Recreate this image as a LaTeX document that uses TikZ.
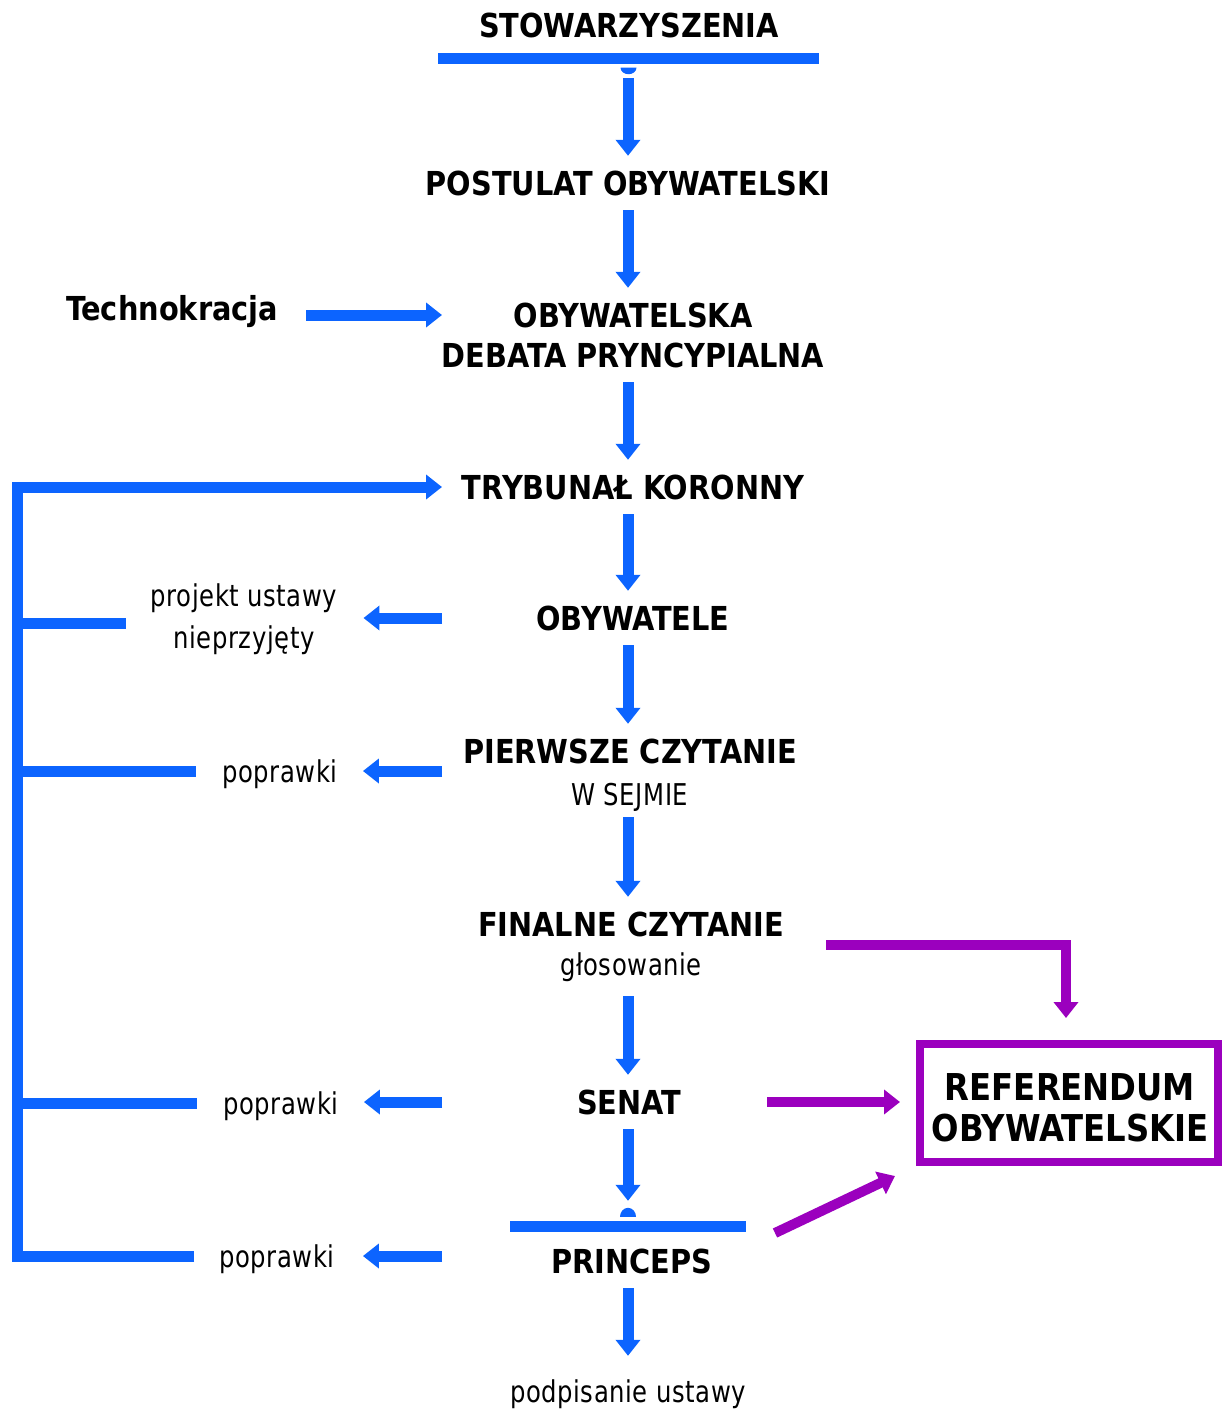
\documentclass[tikz,border=0pt]{standalone}
\usepackage{fontspec}
\usetikzlibrary{arrows.meta}
\newfontfamily\bfcfam[FakeStretch=0.97]{DejaVu Sans Condensed}
\newfontfamily\rgcfam[FakeStretch=0.9,LetterSpace=2]{DejaVu Sans Condensed}
\newcommand\myBF{\bfcfam\bfseries\fontsize{33}{38}\selectfont}
\newcommand\myBIG{\bfcfam\bfseries\fontsize{37}{42}\selectfont}
\newcommand\myRG{\rgcfam\fontsize{30}{34}\selectfont}
\definecolor{cblue}{RGB}{12,100,255}
\definecolor{cpurp}{RGB}{155,0,190}
\tikzset{
  bt/.style={font=\myBF, text height=24pt, text depth=0pt, inner xsep=0pt, inner ysep=15pt},
  bigt/.style={font=\myBIG, text height=28pt, text depth=0pt, inner sep=0pt},
  rt/.style={font=\myRG, text height=22pt, text depth=0pt, inner sep=0pt},
  arr/.style={draw=cblue, line width=11pt, -{Triangle[length=16pt,width=24pt]}},
  parr/.style={draw=cpurp, line width=10pt, -{Triangle[length=16pt,width=24pt]}},
  bline/.style={draw=cblue, line width=11pt},
  barbox/.style={fill=cblue, minimum height=11pt, inner sep=0pt},
}
\begin{document}
\begin{tikzpicture}[x=1pt,y=-1pt]
\useasboundingbox (0,0) rectangle (1223,1409);
\coordinate (colL) at (442,0);
\coordinate (spine) at (17,0);
% main column
\node[bt] (stow) at (629,25) {STOWARZYSZENIA};
\node[barbox, minimum width=381pt] (bar1) at (628.5,58.5) {};
\node[bt] (post) at (628,183) {POSTULAT OBYWATELSKI};
\node[bt] (obyw1) at (633,315) {OBYWATELSKA};
\node[bt] (debata) at (633,355) {DEBATA PRYNCYPIALNA};
\node[bt] (tech) at (172,308) {Technokracja};
\node[bt] (tryb) at (633,487) {TRYBUNAŁ KORONNY};
\node[bt] (obyw) at (633,618) {OBYWATELE};
\node[bt] (pierw) at (630,751) {PIERWSZE CZYTANIE};
\node[rt] (wsejm) at (630,794) {W SEJMIE};
\node[bt] (final) at (631,924) {FINALNE CZYTANIE};
\node[rt] (glos) at (631,964) {głosowanie};
\node[bt] (senat) at (629,1102) {SENAT};
\node[barbox, minimum width=236pt] (bar2) at (628,1226.5) {};
\node[bt] (princ) at (632,1261) {PRINCEPS};
\node[rt] (podp) at (628,1391) {podpisanie ustawy};
% left labels
\node[rt] (proj1) at (244,595) {projekt ustawy};
\node[rt] (proj2) at (244,637) {nieprzyjęty};
\node[rt] (popr1) at (280,771) {poprawki};
\node[rt] (popr2) at (281,1103) {poprawki};
\node[rt] (popr3) at (277,1256) {poprawki};
% referendum box
\node[draw=cpurp, line width=8pt, minimum width=298pt, minimum height=118pt, inner sep=0pt] (ref) at (1069,1103) {};
\node[bigt] (ref1) at (1070,1086) {REFERENDUM};
\node[bigt] (ref2) at (1070,1127) {OBYWATELSKIE};
% domes
\fill[cblue] ([xshift=8pt,yshift=-3.5pt]bar1.south) arc[start angle=0,end angle=180,x radius=8,y radius=6.5] -- cycle;
\fill[cblue] ([xshift=8pt,yshift=4pt]bar2.north) arc[start angle=0,end angle=-180,x radius=8,y radius=9] -- cycle;
% vertical arrows
\draw[arr, shorten <=14pt] (bar1.south -| post) -- (post.north);
\draw[arr] (post.south) -- (post.south |- obyw1.north);
\draw[arr] (debata.south -| post) -- (post |- tryb.north);
\draw[arr] (tryb.south -| post) -- (post |- obyw.north);
\draw[arr] (obyw.south -| post) -- (post |- pierw.north);
\draw[arr, shorten <=12pt] (wsejm.south -| post) -- (post |- final.north);
\draw[arr, shorten <=21pt] (glos.south -| post) -- (post |- senat.north);
\draw[arr, shorten >=20pt] (senat.south -| post) -- (post |- bar2.north);
\draw[arr, shorten >=24pt] (princ.south -| post) -- (post |- podp.north);
% technokracja
\draw[arr, shorten <=28pt] (tech.east |- obyw1) -- (colL |- obyw1);
% left arrows
\draw[arr, shorten >=26pt] (colL |- obyw) -- (proj1.east |- obyw);
\draw[arr, shorten >=25pt] (colL |- popr1) -- (popr1.east);
\draw[arr, shorten >=25pt] (colL |- senat) -- (popr2.east |- senat);
\draw[arr, shorten >=28pt] (colL |- popr3) -- (popr3.east);
% feedback spine
\draw[arr, line join=miter] ([xshift=-25pt]popr3.west) -| (spine |- tryb) -- (colL |- tryb);
\draw[bline] (spine |- obyw) ++(0,5) coordinate (b1) -- ([xshift=-25pt]proj1.west |- b1);
\draw[bline] (spine |- popr1) -- ([xshift=-26pt]popr1.west);
\draw[bline] (spine |- popr2) -- ([xshift=-26pt]popr2.west);
% purple
\draw[parr, line join=miter] ([xshift=42pt,yshift=-21pt]final.east) -| ([yshift=22pt]ref.north -| 1066,0);
\draw[parr, shorten <=86pt, shorten >=16pt] (senat.east) -- (ref.west |- senat);
\draw[parr] (775,1233) coordinate (d0) -- (895,1176) coordinate (d1);
\end{tikzpicture}
\end{document}
